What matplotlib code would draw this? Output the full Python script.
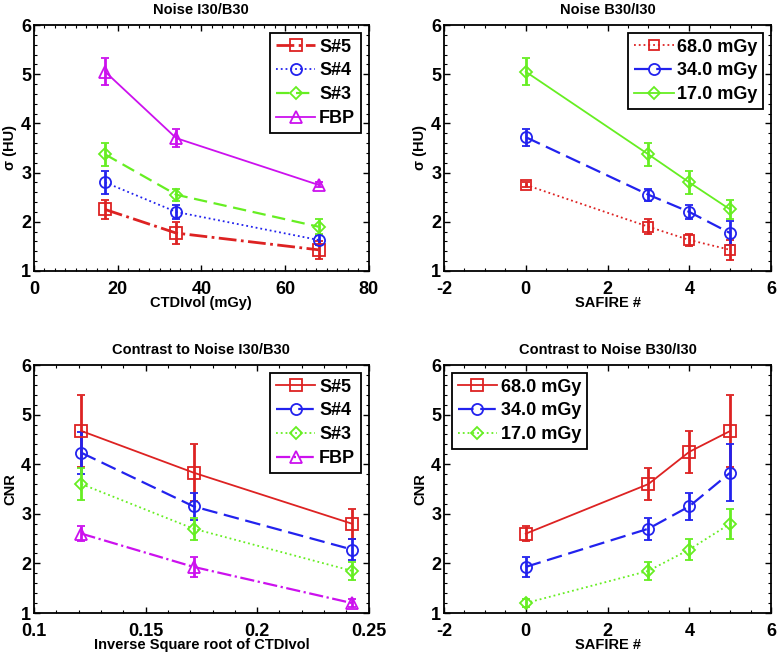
import numpy as np
import matplotlib
matplotlib.use("Agg")
import matplotlib.pyplot as plt
from matplotlib.lines import Line2D
from matplotlib.ticker import AutoMinorLocator

plt.rcParams['font.family'] = ['Liberation Sans', 'DejaVu Sans']
plt.rcParams['font.weight'] = 'bold'
plt.rcParams['axes.unicode_minus'] = False

# ---- data ----
dose = [17, 34, 68]
safire = [0, 3, 4, 5]
inv_sqrt = [1 / np.sqrt(68), 1 / np.sqrt(34), 1 / np.sqrt(17)]

# Noise vs CTDIvol (x = 17, 34, 68)
noise_s5 = [2.25, 1.77, 1.43]
noise_s5_err = [0.2, 0.23, 0.18]
noise_s4 = [2.8, 2.2, 1.63]
noise_s4_err = [0.23, 0.15, 0.1]
noise_s3 = [3.37, 2.55, 1.9]
noise_s3_err = [0.23, 0.12, 0.15]
noise_fbp = [5.05, 3.7, 2.75]
noise_fbp_err = [0.27, 0.18, 0.05]

# Noise vs SAFIRE (x = 0, 3, 4, 5)
noise_68 = [2.75, 1.9, 1.63, 1.43]
noise_68_err = [0.05, 0.15, 0.13, 0.2]
noise_34 = [3.72, 2.55, 2.2, 1.77]
noise_34_err = [0.17, 0.12, 0.15, 0.25]
noise_17 = [5.05, 3.37, 2.8, 2.25]
noise_17_err = [0.27, 0.23, 0.23, 0.2]

# CNR vs inverse sqrt CTDIvol (x = 68, 34, 17 mGy)
cnr_s5 = [4.67, 3.83, 2.8]
cnr_s5_err = [0.72, 0.58, 0.3]
cnr_s4 = [4.23, 3.15, 2.28]
cnr_s4_err = [0.42, 0.27, 0.22]
cnr_s3 = [3.6, 2.7, 1.85]
cnr_s3_err = [0.32, 0.22, 0.18]
cnr_fbp = [2.6, 1.93, 1.2]
cnr_fbp_err = [0.15, 0.2, 0.08]

# CNR vs SAFIRE
cnr_68 = [2.6, 3.6, 4.25, 4.67]
cnr_68_err = [0.15, 0.32, 0.42, 0.72]
cnr_34 = [1.93, 2.7, 3.15, 3.83]
cnr_34_err = [0.2, 0.22, 0.27, 0.58]
cnr_17 = [1.2, 1.85, 2.28, 2.8]
cnr_17_err = [0.08, 0.18, 0.22, 0.3]

RED = '#dd2222'
BLUE = '#2222ee'
GREEN = '#66ee22'
MAG = '#cc11ee'

fig = plt.figure(figsize=(7.82, 6.55), dpi=100)

TICK_FS = 13
LAB_FS = 10.5
TITLE_FS = 10.5
LEG_FS = 13


def mkax(rect, xminor, yminor=5):
    ax = fig.add_axes(rect)
    ax.tick_params(which='major', direction='in', top=True, right=True,
                   labelsize=TICK_FS, width=1, length=4, pad=2)
    ax.tick_params(axis='x', which='major', pad=7)
    ax.tick_params(which='minor', direction='in', top=True, right=True,
                   width=0.8, length=2)
    ax.xaxis.set_minor_locator(AutoMinorLocator(xminor))
    ax.yaxis.set_minor_locator(AutoMinorLocator(yminor))
    for s in ax.spines.values():
        s.set_linewidth(1.3)
    return ax


def series(ax, x, y, e, color, ls, marker, label, lw=1.3, ms=8, handles=None):
    ax.errorbar(x, y, yerr=e, color=color, ls=ls, marker=marker, mfc='none',
                mec=color, ms=ms, lw=lw, elinewidth=2, capsize=3, capthick=1.5,
                mew=1.3)
    handles.append(Line2D([], [], color=color, ls=ls, marker=marker, mfc='none',
                          mec=color, ms=ms, lw=lw, mew=1.3, label=label))


def legend(ax, handles, loc):
    leg = ax.legend(handles=handles, loc=loc, prop={'weight': 'bold', 'size': LEG_FS},
                    frameon=True, fancybox=False, edgecolor='black', handlelength=2.2,
                    borderpad=0.3, labelspacing=0.38, handletextpad=0.2,
                    borderaxespad=0.45, framealpha=1)
    leg.get_frame().set_linewidth(1.3)
    return leg


def labels(ax, title, xl, yl, tpad=4):
    ax.set_title(title, fontsize=TITLE_FS, fontweight='bold', pad=tpad)
    ax.set_xlabel(xl, fontsize=LAB_FS, fontweight='bold', labelpad=-1)
    ax.set_ylabel(yl, fontsize=LAB_FS, fontweight='bold', labelpad=3)
    for lab in ax.get_xticklabels() + ax.get_yticklabels():
        lab.set_fontweight('bold')


L, R = 0.0435, 0.5678
W1, W2 = 0.428, 0.4182
BT, BB = 0.5863, 0.0641
H1, H2 = 0.3755, 0.3786

# top-left
ax = mkax([L, BT, W1, H1], 8)
h = []
series(ax, dose, noise_s5, noise_s5_err, RED, '-.', 's', 'S#5', lw=2, handles=h)
series(ax, dose, noise_s4, noise_s4_err, BLUE, ':', 'o', 'S#4', handles=h)
series(ax, dose, noise_s3, noise_s3_err, GREEN, (0, (6, 3)), 'D', 'S#3', lw=1.6, ms=6.5, handles=h)
series(ax, dose, noise_fbp, noise_fbp_err, MAG, '-', '^', 'FBP', ms=9, handles=h)
ax.set_xlim(0, 80); ax.set_ylim(1, 6)
ax.set_xticks([0, 20, 40, 60, 80]); ax.set_yticks([1, 2, 3, 4, 5, 6])
labels(ax, 'Noise I30/B30', 'CTDIvol (mGy)', 'σ (HU)', tpad=8)
legend(ax, h, 'upper right')

# top-right
ax = mkax([R, BT, W2, H1], 4)
h = []
series(ax, safire, noise_68, noise_68_err, RED, ':', 's', '68.0 mGy', ms=6.5, handles=h)
series(ax, safire, noise_34, noise_34_err, BLUE, (0, (7, 3)), 'o', '34.0 mGy', lw=1.6, handles=h)
series(ax, safire, noise_17, noise_17_err, GREEN, '-', 'D', '17.0 mGy', ms=6.5, handles=h)
ax.set_xlim(-2, 6); ax.set_ylim(1, 6)
ax.set_xticks([-2, 0, 2, 4, 6]); ax.set_yticks([1, 2, 3, 4, 5, 6])
labels(ax, 'Noise B30/I30', 'SAFIRE #', 'σ (HU)', tpad=8)
legend(ax, h, 'upper right')

# bottom-left
ax = mkax([L, BB, W1, H2], 5)
h = []
series(ax, inv_sqrt, cnr_s5, cnr_s5_err, RED, '-', 's', 'S#5', handles=h)
series(ax, inv_sqrt, cnr_s4, cnr_s4_err, BLUE, (0, (7, 3)), 'o', 'S#4', lw=1.6, handles=h)
series(ax, inv_sqrt, cnr_s3, cnr_s3_err, GREEN, ':', 'D', 'S#3', ms=6.5, handles=h)
series(ax, inv_sqrt, cnr_fbp, cnr_fbp_err, MAG, '-.', '^', 'FBP', lw=1.6, ms=9, handles=h)
ax.set_xlim(0.1, 0.25); ax.set_ylim(1, 6)
ax.set_xticks([0.1, 0.15, 0.2, 0.25]); ax.set_xticklabels(['0.1', '0.15', '0.2', '0.25'])
ax.set_yticks([1, 2, 3, 4, 5, 6])
labels(ax, 'Contrast to Noise I30/B30', 'Inverse Square root of CTDIvol', 'CNR', tpad=8)
legend(ax, h, 'upper right')

# bottom-right
ax = mkax([R, BB, W2, H2], 4)
h = []
series(ax, safire, cnr_68, cnr_68_err, RED, '-', 's', '68.0 mGy', handles=h)
series(ax, safire, cnr_34, cnr_34_err, BLUE, (0, (7, 3)), 'o', '34.0 mGy', lw=1.6, handles=h)
series(ax, safire, cnr_17, cnr_17_err, GREEN, ':', 'D', '17.0 mGy', ms=6.5, handles=h)
ax.set_xlim(-2, 6); ax.set_ylim(1, 6)
ax.set_xticks([-2, 0, 2, 4, 6]); ax.set_yticks([1, 2, 3, 4, 5, 6])
labels(ax, 'Contrast to Noise B30/I30', 'SAFIRE #', 'CNR', tpad=8)
legend(ax, h, 'upper left')

fig.savefig('out.png', dpi=100)
